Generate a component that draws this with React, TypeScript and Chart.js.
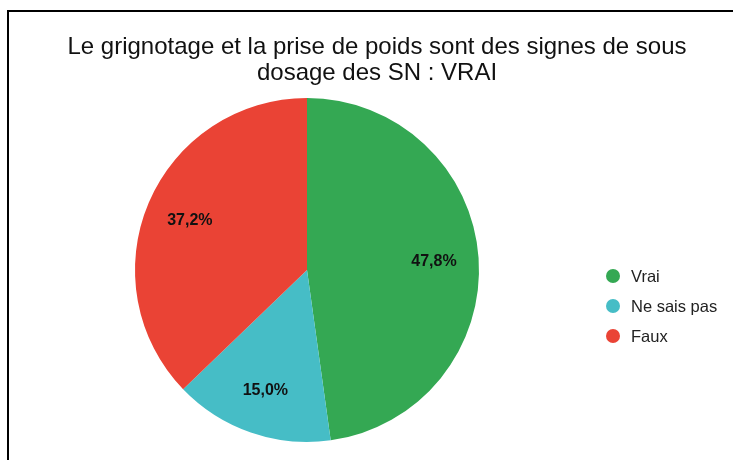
import React, { useEffect, useRef } from "react";
import { Chart, registerables, layouts } from "chart.js";

Chart.register(...registerables);

const titleLines = [
  "Le grignotage et la prise de poids sont des signes de sous",
  "dosage des SN : VRAI",
];
const categories = ["Vrai", "Ne sais pas", "Faux"];
const values = [47.8, 15.0, 37.2];
const colors = ["#34A853", "#46BDC6", "#EA4335"];

const FONT = "'Liberation Sans', Arial, sans-serif";

const sliceLabels = {
  id: "sliceLabels",
  afterDatasetsDraw(chart: any) {
    const ctx = chart.ctx;
    const meta = chart.getDatasetMeta(0);
    const data = chart.data.datasets[0].data as number[];
    const total = data.reduce((a, b) => a + b, 0);
    ctx.save();
    ctx.font = `bold 16px ${FONT}`;
    ctx.fillStyle = "#111";
    ctx.textAlign = "center";
    ctx.textBaseline = "middle";
    meta.data.forEach((arc: any, i: number) => {
      const p = arc.getProps(["x", "y", "startAngle", "endAngle", "outerRadius"], true);
      const mid = (p.startAngle + p.endAngle) / 2;
      const r = p.outerRadius * 0.74;
      const txt = ((data[i] / total) * 100).toFixed(1).replace(".", ",") + "%";
      ctx.fillText(txt, p.x + Math.cos(mid) * r, p.y + Math.sin(mid) * r);
    });
    ctx.restore();
  },
};

const legendBoxPlugin = {
  id: "legendBoxPlugin",
  beforeInit(chart: any) {
    const box: any = {
      position: "right",
      weight: 10,
      fullSize: false,
      options: { stack: undefined, stackWeight: 1 },
      left: 0,
      top: 0,
      right: 0,
      bottom: 0,
      width: 0,
      height: 0,
      isHorizontal() {
        return false;
      },
      update(maxWidth: number, maxHeight: number) {
        this.width = 140;
        this.height = maxHeight;
      },
      getPadding() {
        return { left: 0, right: 0, top: 0, bottom: 0 };
      },
      draw() {
        const ctx = chart.ctx;
        const labels = chart.data.labels as string[];
        const bg = chart.data.datasets[0].backgroundColor as string[];
        ctx.save();
        ctx.font = `16.5px ${FONT}`;
        ctx.textAlign = "left";
        ctx.textBaseline = "middle";
        labels.forEach((lab, i) => {
          const cy = 264 + i * 30;
          const cx = this.left + 8;
          ctx.beginPath();
          ctx.fillStyle = bg[i];
          ctx.arc(cx, cy, 7, 0, Math.PI * 2);
          ctx.fill();
          ctx.fillStyle = "#222";
          ctx.fillText(lab, cx + 18, cy + 1);
        });
        ctx.restore();
      },
    };
    layouts.addBox(chart, box);
  },
};

export default function App() {
  const ref = useRef<HTMLCanvasElement>(null);
  useEffect(() => {
    if (!ref.current) return;
    const chart = new Chart(ref.current, {
      type: "pie",
      data: {
        labels: categories,
        datasets: [
          {
            data: values,
            backgroundColor: colors,
            borderWidth: 0,
          },
        ],
      },
      options: {
        animation: false,
        responsive: false,
        devicePixelRatio: 1,
        radius: 172,
        layout: { padding: { top: 0, bottom: 10, left: 0, right: 0 } },
        plugins: {
          legend: { display: false },
          tooltip: { enabled: false },
          title: {
            display: true,
            text: titleLines,
            color: "#111",
            font: { family: FONT, size: 24, weight: "normal", lineHeight: 26 / 24 },
            padding: { top: 22, bottom: 4 },
          },
        },
      } as any,
      plugins: [sliceLabels, legendBoxPlugin],
    });
    return () => chart.destroy();
  }, []);
  return (
    <div
      style={{
        position: "fixed",
        left: 0,
        top: 0,
        width: 733,
        height: 460,
        overflow: "hidden",
        background: "#fff",
      }}
    >
      <div
        style={{
          position: "absolute",
          left: 7,
          top: 10,
          width: 760,
          height: 470,
          borderLeft: "2px solid #000",
          borderTop: "2px solid #000",
        }}
      >
        <canvas ref={ref} width={736} height={448} style={{ display: "block" }} />
      </div>
    </div>
  );
}
